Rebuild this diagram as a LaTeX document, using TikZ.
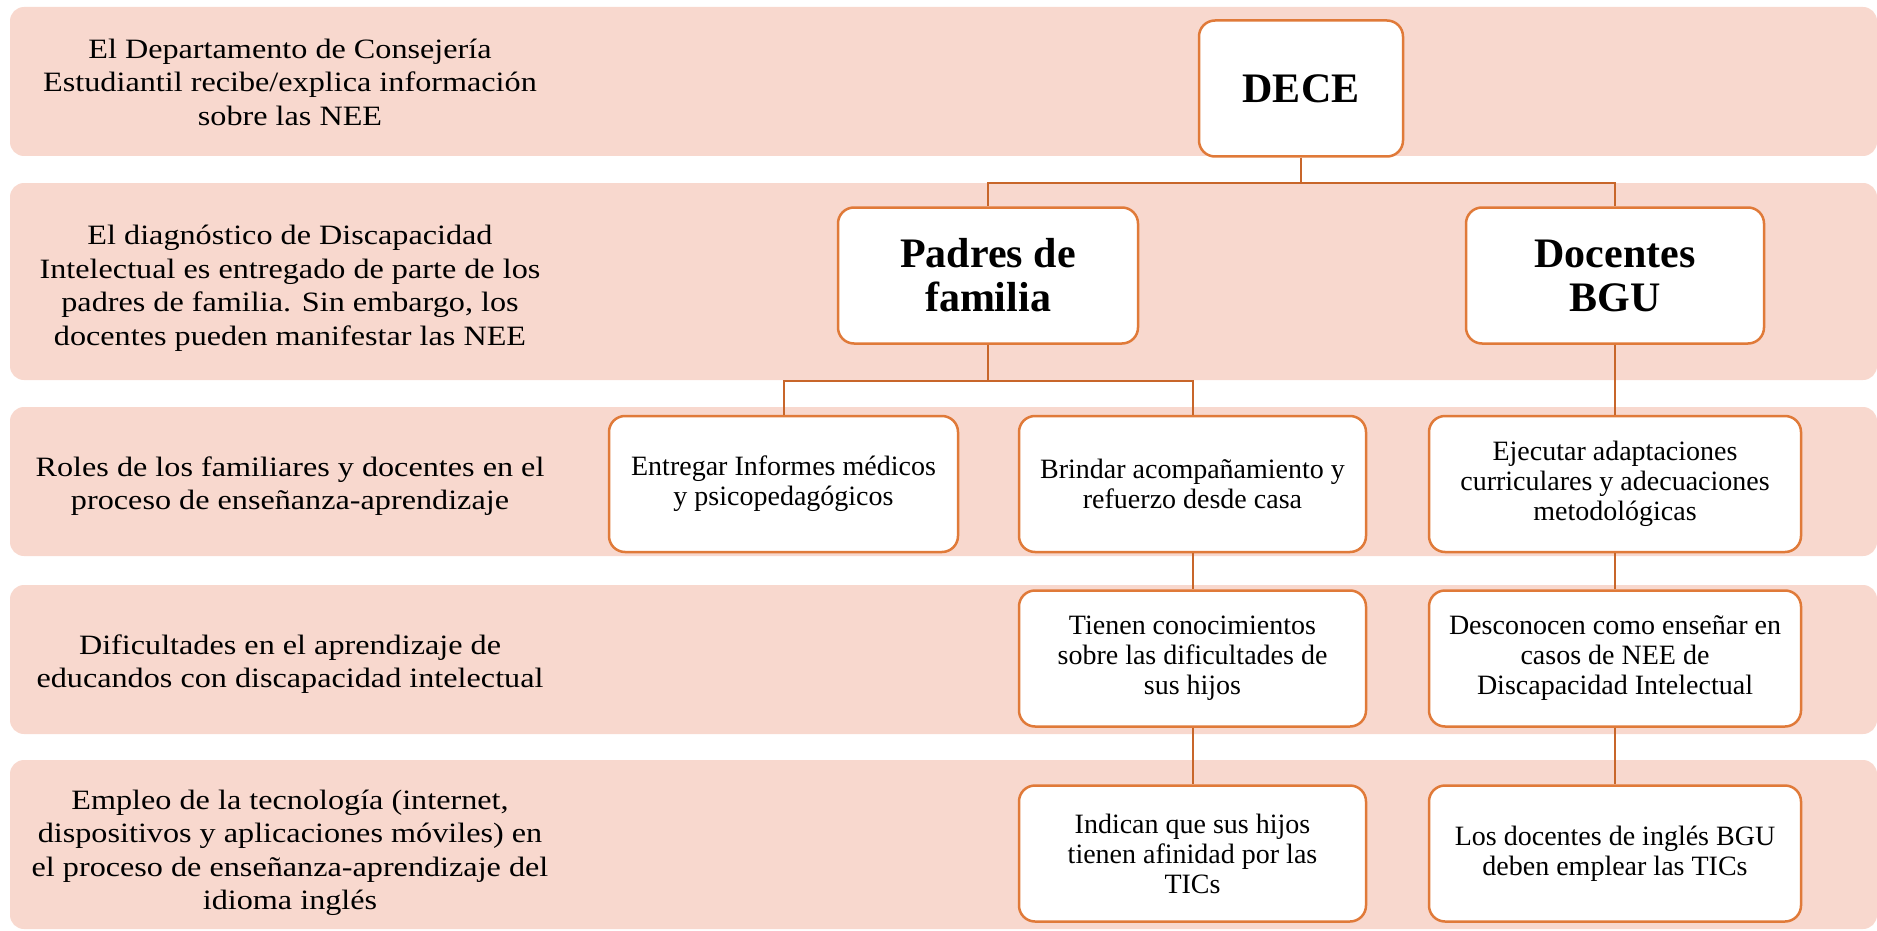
\documentclass[tikz,border=0pt]{standalone}
\usepackage{fontspec}
\setmainfont{Liberation Serif}
\newfontfamily\rowfont[FakeStretch=1.15]{Liberation Serif}
\definecolor{bandfill}{RGB}{248,216,206}
\definecolor{boxline}{RGB}{224,122,57}
\definecolor{linkline}{RGB}{200,102,42}
\begin{document}
\begin{tikzpicture}[x=1pt, y=-1pt,
    band/.style={fill=bandfill, rounded corners=14pt},
    lefttext/.style={align=center, font=\rowfont\fontsize{28}{33.5}\selectfont},
    rolebox/.style={draw=boxline, line width=2.5pt, fill=white, rounded corners=16pt,
      align=center, minimum height=136pt, inner sep=0pt, font=\fontsize{28}{30}\selectfont},
    headbox/.style={rolebox, font=\fontsize{42}{44}\selectfont\bfseries},
    conn/.style={draw=linkline, line width=2pt}]

  \useasboundingbox (0,0) rectangle (1877,931);

  % bands, top to bottom
  \fill [band] (10,7)   rectangle (1877,156);
  \fill [band] (10,183) rectangle (1877,380);
  \fill [band] (10,407) rectangle (1877,556);
  \fill [band] (10,585) rectangle (1877,734);
  \fill [band] (10,760) rectangle (1877,929);

  \node [lefttext] (rowdece) at (290,82)
        {El Departamento de Consejería\\ Estudiantil recibe/explica información\\ sobre las NEE};
  \node [lefttext] (rowdiag) at (290,288)
        {El diagnóstico de Discapacidad\\ Intelectual es entregado de parte de los\\
         padres de familia. Sin embargo, los\\ docentes pueden manifestar las NEE};
  \node [lefttext] (rowroles) at (290,486)
        {Roles de los familiares y docentes en el\\ proceso de enseñanza-aprendizaje};
  \node [lefttext] (rowdific) at (290,664)
        {Dificultades en el aprendizaje de\\ educandos con discapacidad intelectual};
  \node [lefttext] (rowtic) at (290,853)
        {Empleo de la tecnología (internet,\\ dispositivos y aplicaciones móviles) en\\
         el proceso de enseñanza-aprendizaje del\\ idioma inglés};

  %                                   x,y
  \node [headbox, minimum width=204pt] (dece)     at (1301,88.5)  {DECE};
  \node [headbox, minimum width=300pt] (padres)   at (988,275.5)  {Padres de\\ familia};
  \node [headbox, minimum width=298pt] (docentes) at (1615,275.5) {Docentes\\ BGU};

  \node [rolebox, minimum width=349pt] (informes) at (783.5,484)
        {Entregar Informes médicos\\ y psicopedagógicos};
  \node [rolebox, minimum width=347pt] (acompana) at (1192.5,484)
        {Brindar acompañamiento y\\ refuerzo desde casa};
  \node [rolebox, minimum width=372pt] (adaptar)  at (1615,484)
        {Ejecutar adaptaciones\\ curriculares y adecuaciones\\ metodológicas};

  \node [rolebox, minimum width=347pt] (conocen)  at (1192.5,658.5)
        {Tienen conocimientos\\ sobre las dificultades de\\ sus hijos};
  \node [rolebox, minimum width=372pt] (desconocen) at (1615,658.5)
        {Desconocen como enseñar en\\ casos de NEE de\\ Discapacidad Intelectual};

  \node [rolebox, minimum width=347pt] (afinidad) at (1192.5,853.5)
        {Indican que sus hijos\\ tienen afinidad por las\\ TICs};
  \node [rolebox, minimum width=372pt] (emplear)  at (1615,853.5)
        {Los docentes de inglés BGU\\ deben emplear las TICs};

  \draw [conn] (dece.south) -- ++(0,25) -| (padres.north);
  \draw [conn] (dece.south) -- ++(0,25) -| (docentes.north);
  \draw [conn] (padres.south) -- ++(0,36) -| (informes.north);
  \draw [conn] (padres.south) -- ++(0,36) -| (acompana.north);
  \draw [conn] (docentes.south) -- (adaptar.north);
  \draw [conn] (acompana.south) -- (conocen.north);
  \draw [conn] (adaptar.south) -- (desconocen.north);
  \draw [conn] (conocen.south) -- (afinidad.north);
  \draw [conn] (desconocen.south) -- (emplear.north);

\end{tikzpicture}
\end{document}
